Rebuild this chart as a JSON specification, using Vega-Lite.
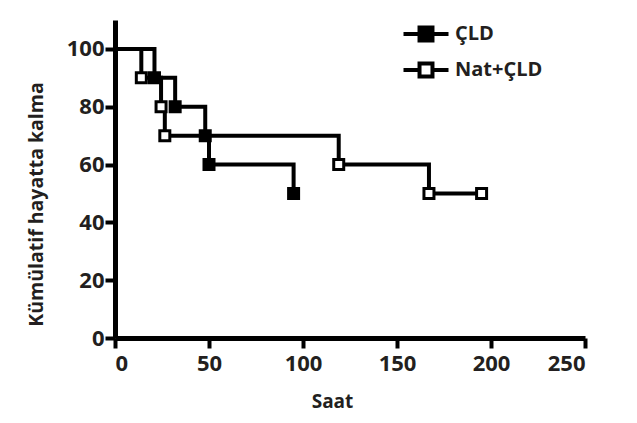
{
  "$schema": "https://vega.github.io/schema/vega-lite/v6.json",
  "width": 470,
  "height": 318,
  "autosize": {"type": "none"},
  "padding": {"left": 115, "top": 20, "right": 52, "bottom": 85},
  "background": "white",
  "config": {
    "view": {"stroke": null},
    "font": "Open Sans",
    "axis": {
      "domainColor": "black",
      "domainWidth": 5,
      "tickColor": "black",
      "tickWidth": 4,
      "tickSize": 10,
      "grid": false,
      "labelFont": "Open Sans",
      "labelFontSize": 22,
      "labelFontWeight": "bold",
      "labelColor": "#231f20",
      "titleFont": "Open Sans",
      "titleFontSize": 19,
      "titleFontWeight": "bold",
      "titleColor": "#231f20"
    }
  },
  "data": {
    "values": [
      {"series": "ÇLD", "saat": 0, "survival": 100},
      {"series": "ÇLD", "saat": 21, "survival": 90},
      {"series": "ÇLD", "saat": 32, "survival": 80},
      {"series": "ÇLD", "saat": 48, "survival": 70},
      {"series": "ÇLD", "saat": 50, "survival": 60},
      {"series": "ÇLD", "saat": 95, "survival": 50},
      {"series": "Nat+ÇLD", "saat": 0, "survival": 100},
      {"series": "Nat+ÇLD", "saat": 14, "survival": 90},
      {"series": "Nat+ÇLD", "saat": 24.5, "survival": 80},
      {"series": "Nat+ÇLD", "saat": 26.5, "survival": 70},
      {"series": "Nat+ÇLD", "saat": 119, "survival": 60},
      {"series": "Nat+ÇLD", "saat": 167, "survival": 50},
      {"series": "Nat+ÇLD", "saat": 195, "survival": 50}
    ]
  },
  "encoding": {
    "x": {
      "field": "saat",
      "type": "quantitative",
      "scale": {"domain": [0, 250], "nice": false, "zero": true},
      "axis": {
        "title": "Saat",
        "values": [0, 50, 100, 150, 200, 250],
        "labelPadding": 5,
        "titleX": 217,
        "titleY": 69,
        "titleAlign": "center",
        "titleBaseline": "alphabetic"
      }
    },
    "y": {
      "field": "survival",
      "type": "quantitative",
      "scale": {"domain": [0, 110], "nice": false},
      "axis": {
        "title": "Kümülatif hayatta kalma",
        "values": [0, 20, 40, 60, 80, 100],
        "labelPadding": 1,
        "titleAngle": -90,
        "titleX": -73,
        "titleY": 184,
        "titleFontSize": 19.5,
        "titleAlign": "center",
        "titleBaseline": "alphabetic"
      }
    }
  },
  "layer": [
    {
      "mark": {"type": "line", "interpolate": "step-after", "color": "black", "strokeWidth": 4},
      "encoding": {"detail": {"field": "series", "type": "nominal"}}
    },
    {
      "transform": [{"filter": "datum.saat > 0"}],
      "mark": {"type": "point", "shape": "square", "filled": true, "stroke": "black", "strokeWidth": 3, "size": 100, "opacity": 1},
      "encoding": {
        "fill": {
          "field": "series",
          "type": "nominal",
          "scale": {"domain": ["ÇLD", "Nat+ÇLD"], "range": ["black", "white"]},
          "legend": {
            "title": null,
            "orient": "none",
            "legendX": 300,
            "legendY": 3,
            "padding": 0,
            "symbolType": "M-2.5,0H-0.72M0.72,0H2.5M-0.72,-0.72H0.72V0.72H-0.72Z",
            "symbolSize": 324,
            "symbolStrokeColor": "black",
            "symbolStrokeWidth": 4,
            "symbolOpacity": 1,
            "labelFont": "Open Sans",
            "labelFontSize": 20,
            "labelFontWeight": "bold",
            "labelColor": "#231f20",
            "labelOffset": 18,
            "rowPadding": 6
          }
        }
      }
    }
  ]
}
